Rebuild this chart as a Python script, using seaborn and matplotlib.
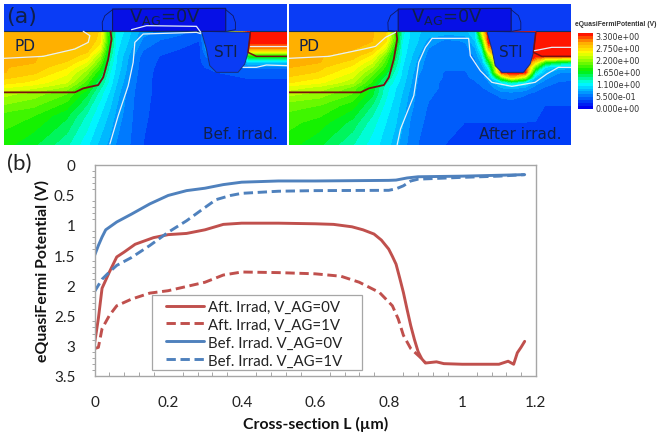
import numpy as np
import pandas as pd
import seaborn as sns
import matplotlib.pyplot as plt
from matplotlib.cm import ScalarMappable
from matplotlib.colors import LinearSegmentedColormap, Normalize
from matplotlib.patches import Polygon, Rectangle

# --- (b) line data, L in um, potential in V
L_aft0 = [0, .01, .02, .04, .06, .08, .11, .16, .2, .25, .3, .35, .4, .5, .6, .65, .7, .73, .76, .78, .8, .81, .82, .83, .84, .85, .86, .87, .88, .89, .9, .93, .95, 1.0, 1.05, 1.1, 1.125, 1.14, 1.15, 1.16, 1.17]
V_aft0 = [2.95, 2.55, 2.05, 1.78, 1.53, 1.45, 1.32, 1.21, 1.16, 1.14, 1.08, 0.99, 0.97, 0.97, 0.98, 0.99, 1.03, 1.08, 1.15, 1.25, 1.4, 1.52, 1.65, 1.88, 2.12, 2.4, 2.67, 2.9, 3.1, 3.22, 3.29, 3.27, 3.3, 3.31, 3.31, 3.31, 3.26, 3.31, 3.12, 3.03, 2.93]
L_aft1 = [0, .01, .02, .04, .06, .1, .15, .2, .25, .3, .35, .4, .5, .6, .67, .72, .775, .81, .826, .84, .86, .885, .9]
V_aft1 = [3.05, 3.03, 2.72, 2.5, 2.34, 2.23, 2.13, 2.09, 2.02, 1.95, 1.83, 1.78, 1.79, 1.81, 1.85, 1.95, 2.12, 2.34, 2.56, 2.83, 3.05, 3.19, 3.28]
L_bef0 = [0, .01, .02, .03, .06, .1, .15, .2, .25, .3, .35, .4, .5, .6, .8, .82, .85, .88, 1.0, 1.17]
V_bef0 = [1.5, 1.34, 1.2, 1.08, 0.95, 0.82, 0.65, 0.51, 0.43, 0.39, 0.33, 0.29, 0.27, 0.27, 0.26, 0.255, 0.22, 0.2, 0.19, 0.165]
L_bef1 = [0, .02, .04, .06, .1, .15, .2, .25, .3, .33, .37, .4, .5, .6, .8, .82, .84, .86, .88, 1.0, 1.1, 1.17]
V_bef1 = [2.1, 1.9, 1.78, 1.67, 1.54, 1.34, 1.12, 0.93, 0.71, 0.58, 0.51, 0.475, 0.44, 0.43, 0.425, 0.4, 0.35, 0.27, 0.24, 0.21, 0.19, 0.165]

series_names = ['Aft. Irrad, V_AG=0V', 'Aft. Irrad, V_AG=1V', 'Bef. Irrad. V_AG=0V', 'Bef. Irrad. V_AG=1V']
x_ticks = [0, 0.2, 0.4, 0.6, 0.8, 1, 1.2]
x_tick_labels = ['0', '0.2', '0.4', '0.6', '0.8', '1', '1.2']
y_ticks = [0, 0.5, 1, 1.5, 2, 2.5, 3, 3.5]
y_tick_labels = ['0', '0.5', '1', '1.5', '2', '2.5', '3', '3.5']

# --- (a) potential maps on a coarse grid
bef_x = [12, 100, 200, 260, 300, 330, 350, 375, 400, 430, 480, 540, 600, 750, 780, 862]
bef_y = [97, 125, 150, 170, 190, 205, 220, 250, 285, 350, 437]
bef_map = [
    [2.8, 2.8, 2.8, 2.8, 2.65, 1.6, 1.1, 1.0, .85, .7, .6, .55, .45, 3.3, 3.3, 3.3],
    [2.8, 2.8, 2.8, 2.8, 2.6, 1.55, 1.08, .95, .8, .6, .5, .45, .38, 3.3, 3.3, 3.3],
    [2.8, 2.8, 2.8, 2.75, 2.4, 1.45, 1.05, .9, .72, .52, .42, .38, .36, 2.9, 2.9, 2.9],
    [2.8, 2.8, 2.75, 2.6, 2.15, 1.35, 1.02, .85, .65, .45, .38, .36, .36, 1.7, 1.7, 1.7],
    [2.8, 2.8, 2.65, 2.4, 1.95, 1.25, 1.0, .82, .62, .42, .37, .36, .36, .9, .9, .9],
    [2.8, 2.75, 2.55, 2.25, 1.8, 1.2, .98, .8, .6, .42, .36, .36, .36, .55, .55, .55],
    [2.8, 2.7, 2.45, 2.1, 1.65, 1.15, .95, .78, .58, .41, .36, .36, .36, .42, .42, .42],
    [2.6, 2.5, 2.3, 1.85, 1.4, 1.08, .9, .72, .55, .4, .36, .36, .36, .36, .36, .36],
    [2.2, 2.1, 1.9, 1.55, 1.2, .98, .82, .65, .52, .4, .36, .36, .36, .36, .36, .36],
    [1.85, 1.78, 1.55, 1.25, 1.02, .85, .72, .6, .5, .39, .36, .36, .36, .36, .36, .36],
    [1.7, 1.55, 1.3, 1.05, .85, .72, .62, .55, .48, .38, .36, .36, .36, .36, .36, .36],
]
aft_x = [8, 100, 200, 260, 300, 330, 350, 375, 400, 430, 480, 540, 570, 590, 610, 650, 680, 720, 750, 780, 820, 858]
aft_y = [97, 125, 150, 170, 190, 205, 220, 235, 250, 265, 285, 320, 370, 437]
aft_map = [
    [2.8, 2.8, 2.8, 2.8, 2.72, 1.9, 1.2, 1.0, .9, .85, .85, .85, 1.0, 2.4, 3.3, 3.3, 3.3, 3.3, 3.3, 3.3, 3.3, 3.3],
    [2.8, 2.8, 2.8, 2.8, 2.6, 1.8, 1.15, .98, .88, .72, .6, .65, .9, 1.7, 3.3, 3.3, 3.3, 3.3, 3.3, 3.3, 3.3, 3.3],
    [2.8, 2.8, 2.8, 2.72, 2.3, 1.6, 1.1, .95, .82, .62, .55, .58, .75, 1.2, 2.8, 3.3, 3.3, 3.3, 3.3, 3.3, 3.3, 3.3],
    [2.8, 2.8, 2.75, 2.5, 2.0, 1.45, 1.08, .92, .75, .58, .53, .55, .65, .95, 2.1, 3.3, 3.3, 3.3, 3.3, 3.3, 3.3, 3.3],
    [2.8, 2.8, 2.6, 2.3, 1.85, 1.35, 1.05, .88, .7, .56, .52, .53, .6, .8, 1.5, 3.3, 3.3, 3.3, 2.6, 1.7, 1.5, 1.4],
    [2.8, 2.7, 2.5, 2.15, 1.75, 1.28, 1.02, .85, .68, .55, .52, .52, .56, .68, 1.1, 3.3, 3.3, 3.3, 1.9, 1.0, .85, .8],
    [2.75, 2.65, 2.4, 2.0, 1.6, 1.2, 1.0, .82, .65, .55, .5, .5, .54, .6, .85, 3.2, 3.3, 3.3, 1.3, .8, .65, .62],
    [2.65, 2.55, 2.3, 1.85, 1.45, 1.12, .98, .8, .62, .54, .5, .5, .52, .56, .72, 2.0, 2.7, 2.2, .9, .68, .56, .55],
    [2.55, 2.45, 2.2, 1.75, 1.3, 1.08, .95, .78, .6, .52, .5, .5, .5, .53, .62, 1.05, 1.3, 1.05, .72, .58, .5, .48],
    [2.35, 2.25, 2.0, 1.6, 1.2, 1.02, .92, .75, .58, .52, .5, .5, .5, .5, .55, .78, .82, .75, .58, .5, .44, .42],
    [2.2, 2.1, 1.9, 1.55, 1.18, 1.0, .88, .72, .57, .52, .48, .47, .46, .46, .47, .55, .56, .52, .47, .42, .4, .4],
    [1.95, 1.9, 1.7, 1.38, 1.1, .95, .84, .68, .55, .5, .43, .42, .42, .42, .42, .43, .45, .42, .4, .38, .38, .38],
    [1.82, 1.72, 1.48, 1.2, 1.02, .9, .78, .62, .54, .47, .4, .38, .38, .38, .38, .38, .38, .38, .38, .38, .38, .38],
    [1.7, 1.55, 1.28, 1.08, .95, .82, .7, .58, .5, .43, .38, .37, .37, .37, .37, .37, .37, .37, .37, .37, .37, .37],
]

# cut lines drawn over the maps
junction_x = [225, 250, 295, 310, 325, 335, 332]
junction_y = [280, 268, 258, 235, 180, 120, 97]
rim_x = [752, 745, 770]
rim_y = [100, 160, 172]
bef_white = [
    ([12, 130, 225, 265, 270, 250], [178, 172, 150, 130, 110, 97]),
    ([330, 355, 385, 400, 405, 430, 590, 603], [435, 350, 260, 190, 130, 105, 100, 104]),
    ([395, 440, 590, 603], [92, 80, 82, 100]),
    ([730, 770, 800, 862], [205, 205, 198, 200]),
    ([752, 862], [142, 142]),
]
aft_white = [
    ([8, 130, 235, 270, 300, 330], [178, 172, 150, 142, 115, 100]),
    ([335, 345, 385, 400, 420, 440, 550, 555, 585, 620, 680, 750, 785, 820, 858], [437, 390, 290, 190, 145, 118, 118, 170, 215, 250, 262, 250, 225, 205, 205]),
    ([748, 800, 858], [155, 145, 145]),
]
sti_x = [605, 752, 745, 735, 715, 650, 630, 620]
sti_y = [97, 100, 160, 195, 220, 220, 200, 150]
gate_x = [338, 678, 678, 338]
gate_y = [30, 28, 97, 97]
spacer_x = [338, 315, 307, 308, 338, 678, 700, 707, 707, 680]
spacer_y = [32, 50, 70, 95, 97, 32, 50, 70, 92, 97]

cbar_ticks = [3.3, 2.75, 2.2, 1.65, 1.1, 0.55, 0]
cbar_labels = ['3.300e+00', '2.750e+00', '2.200e+00', '1.650e+00', '1.100e+00', '5.500e-01', '0.000e+00']

sns.set_theme(style='white')
plt.rcParams['font.family'] = ['Lato', 'DejaVu Sans']
W, H = 668, 439
fig = plt.figure(figsize=(W / 100, H / 100), dpi=100, facecolor='white')


def px_axes(left, top, right, bottom):
    return fig.add_axes([left / W, 1 - bottom / H, (right - left) / W, (bottom - top) / H])


fermi = LinearSegmentedColormap.from_list('fermi', [
    (0, '#0000f0'), (0.17, '#0082ff'), (0.333, '#00ffff'), (0.5, '#00f000'),
    (0.66, '#a8ff00'), (0.75, '#ffff00'), (0.89, '#ffaa00'), (1, '#ff1500')], N=26)
norm = Normalize(0, 3.3)
levels = np.linspace(0, 3.3, 27)
DARK = '#10204a'


def draw_map(ax, xs, ys, field, white_lines, right_edge, left_edge, title, note, note_x, gate_text_x):
    ax.contourf(xs, ys, field, levels=levels, cmap=fermi, norm=norm, extend='both')
    ax.set_xlim(left_edge, right_edge)
    ax.set_ylim(437, 15)
    ax.add_patch(Rectangle((left_edge, 15), right_edge - left_edge, 82, color='#0a3cf5', lw=0, zorder=2))
    ax.add_patch(Polygon(np.column_stack([sti_x, sti_y]), fc='#0a3cf5', ec='#17307a', lw=0.7, zorder=3))
    ax.add_patch(Polygon(np.column_stack([gate_x, gate_y]), fc='#0610e6', ec='#101860', lw=0.8, zorder=3))
    ax.plot(spacer_x[:5], spacer_y[:5], color='#101860', lw=0.6, zorder=3)
    ax.plot(spacer_x[5:], spacer_y[5:], color='#101860', lw=0.6, zorder=3)
    ax.plot([left_edge, 605], [97, 97], color='#103060', lw=0.8, zorder=3)
    ax.plot([752, right_edge], [97, 97], color='#103060', lw=0.8, zorder=3)
    ax.plot([left_edge] + junction_x, [280] + junction_y, color='#7a1010', lw=1.3, zorder=4)
    ax.plot(rim_x + [right_edge], rim_y + [172], color='#7a1010', lw=1.1, zorder=4)
    for wx, wy in white_lines:
        ax.plot(wx, wy, color='#e8f0f8', lw=0.9, zorder=4)
    ax.text(gate_text_x, 50, r'V$_{\mathrm{AG}}$=0V', family='DejaVu Sans', fontsize=13, color=DARK,
            ha='center', va='center', zorder=5)
    ax.text(75 + left_edge - 12, 140, 'PD', family='DejaVu Sans', fontsize=11, color=DARK, ha='center', va='center', zorder=5)
    ax.text(678, 156, 'STI', family='DejaVu Sans', fontsize=11, color=DARK, ha='center', va='center', zorder=5)
    ax.text(note_x, 403, note, family='DejaVu Sans', fontsize=11, color=DARK, ha='right', va='center', zorder=5)
    if title:
        ax.text(65, 50, title, family='DejaVu Sans', fontsize=16, color=DARK, ha='center', va='center', zorder=5)
    ax.axis('off')


ax_bef = px_axes(4, 5, 287, 145.7)
draw_map(ax_bef, bef_x, bef_y, bef_map, bef_white, 862, 12, '(a)', 'Bef. irrad.', 835, 495)
ax_aft = px_axes(288.5, 5, 571, 145.7)
draw_map(ax_aft, aft_x, aft_y, aft_map, aft_white, 858, 8, None, 'After irrad.', 828, 485)

# colour legend of the maps
cax = px_axes(578, 34, 593, 110)
fig.colorbar(ScalarMappable(norm=Normalize(-0.05, 3.4), cmap=fermi), cax=cax)
cax.set_ylim(-0.05, 3.4)
cax.tick_params(length=0, pad=2, labelsize=5.8, labelcolor='#333333')
cax.set_yticks(cbar_ticks, cbar_labels, family='DejaVu Sans')
for s in cax.spines.values():
    s.set_visible(False)
fig.text(575 / W, 1 - 24 / H, 'eQuasiFermiPotential (V)', family='Liberation Sans', fontsize=4.9,
         weight='bold', color='#333333', va='center')

# --- (b)
ax = px_axes(94.7, 165.7, 535.7, 376.7)
red, blue = '#c0504d', '#4f81bd'
curves = pd.DataFrame({
    'L': L_aft0 + L_aft1 + L_bef0 + L_bef1,
    'V': V_aft0 + V_aft1 + V_bef0 + V_bef1,
    'series': [series_names[0]] * len(L_aft0) + [series_names[1]] * len(L_aft1)
    + [series_names[2]] * len(L_bef0) + [series_names[3]] * len(L_bef1),
})
sns.lineplot(data=curves, x='L', y='V', hue='series', style='series', hue_order=series_names,
             style_order=series_names, palette=[red, red, blue, blue],
             dashes=['', (3.2, 1.6), '', (3.2, 1.6)], sort=False, estimator=None,
             linewidth=2.1, ax=ax)

ax.set_xlim(0, 1.2)
ax.set_ylim(3.5, 0)
ax.set_xticks(x_ticks, x_tick_labels)
ax.set_yticks(y_ticks, y_tick_labels)
ax.set_xticks(np.arange(0, 1.21, 0.04), minor=True)
ax.set_yticks(np.arange(0, 3.51, 0.1), minor=True)
ax.tick_params(axis='both', which='major', length=5, width=0.8, color='#a6a6a6', labelsize=11, labelcolor='#222222', pad=9)
ax.tick_params(axis='x', which='major', direction='inout', length=8, pad=10)
ax.tick_params(axis='x', which='minor', direction='in', length=3, width=0.7, color='#a6a6a6', bottom=True)
ax.tick_params(axis='y', which='minor', direction='out', length=2.5, width=0.7, color='#a6a6a6', left=True)
for s in ax.spines.values():
    s.set_color('#a6a6a6')
    s.set_linewidth(1)
ax.set_xlabel('Cross-section L (µm)', fontsize=11.4, weight='bold', color='#111111', labelpad=5)
ax.set_ylabel('eQuasiFermi Potential (V)', fontsize=11.4, weight='bold', color='#111111', labelpad=3)

# legend box is its own patch so the rows can sit as far in as the reference has them
ax.add_patch(Rectangle(((151.7 - 94.7) / 441, (376.7 - 370.7) / 211), 210 / 441, 74.7 / 211, transform=ax.transAxes,
                       fc='white', ec='#a6a6a6', lw=0.9, zorder=4))
handles, labels = ax.get_legend_handles_labels()
leg = ax.legend(handles, labels, loc='lower left', bbox_to_anchor=((166 - 94.7) / 441, (376.7 - 368.5) / 211),
                fontsize=10.8, frameon=False, handlelength=2.55, handletextpad=0.25, labelspacing=0.26,
                borderpad=0, borderaxespad=0, labelcolor='#222222')
leg.set_zorder(5)

fig.text(7 / W, 1 - 164 / H, '(b)', fontsize=16, color='#222222', va='center')

fig.savefig('out.png', dpi=100)
